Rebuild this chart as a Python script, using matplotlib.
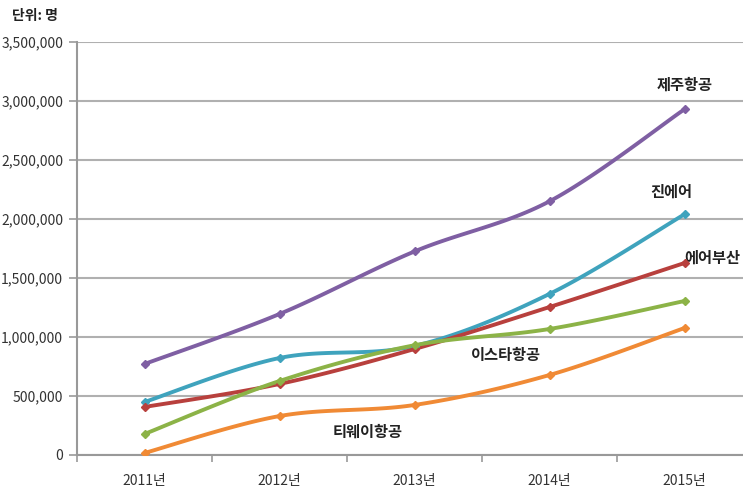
import numpy as np
import matplotlib.pyplot as plt

plt.rcParams['font.family'] = ['Noto Sans CJK KR', 'DejaVu Sans']

# data (passengers)
years = ['2011년', '2012년', '2013년', '2014년', '2015년']
jeju = [771000, 1195000, 1725000, 2150000, 2930000]
jinair = [449000, 822000, 924000, 1365000, 2040000]
airbusan = [407000, 602000, 898000, 1254000, 1627000]
eastar = [178000, 627000, 930000, 1068000, 1305000]
tway = [17000, 330000, 424000, 678000, 1076000]

series = [
    ('제주항공', jeju, '#7F5FA3'),
    ('진에어', jinair, '#3FA3BD'),
    ('에어부산', airbusan, '#B8403D'),
    ('이스타항공', eastar, '#8CB347'),
    ('티웨이항공', tway, '#F08A35'),
]


def smooth(x, y, n=30):
    # catmull-rom style curve through the points (like excel "smoothed line")
    x = np.asarray(x, float)
    y = np.asarray(y, float)
    px = np.concatenate([[x[0]], x, [x[-1]]])
    py = np.concatenate([[y[0]], y, [y[-1]]])
    xs, ys = [], []
    for i in range(1, len(px) - 2):
        p0 = np.array([px[i - 1], py[i - 1]])
        p1 = np.array([px[i], py[i]])
        p2 = np.array([px[i + 1], py[i + 1]])
        p3 = np.array([px[i + 2], py[i + 2]])
        c1 = p1 + (p2 - p0) / 6
        c2 = p2 - (p3 - p1) / 6
        t = np.linspace(0, 1, n)[:, None]
        b = (1 - t) ** 3 * p1 + 3 * (1 - t) ** 2 * t * c1 + 3 * (1 - t) * t ** 2 * c2 + t ** 3 * p2
        xs.extend(b[:, 0])
        ys.extend(b[:, 1])
    return np.array(xs), np.array(ys)


fig = plt.figure(figsize=(7.43, 4.91), dpi=100)
ax = fig.add_axes([77 / 743, 36 / 491, 675 / 743, 413 / 491])

xpos = np.arange(len(years))
# scale y so the smoothing acts in roughly screen proportions
yscale = 135 / (118 / 1e6)
for name, vals, col in series:
    sx, sy = smooth(xpos, np.array(vals) / yscale)
    ax.plot(sx, sy * yscale, color=col, lw=2.8, solid_capstyle='round', zorder=3)
    ax.plot(xpos, vals, linestyle='none', marker='D', ms=4, color=col, zorder=4)

ax.set_xlim(-0.5, 4.5)
ax.set_ylim(0, 3500000)
ax.set_yticks(np.arange(0, 3500001, 500000))
ax.set_yticklabels([f'{v:,}' for v in range(0, 3500001, 500000)])
ax.yaxis.grid(True, color='#B0B0B0', lw=1.5)
ax.set_axisbelow(True)

ax.set_xticks(xpos)
ax.set_xticklabels(years)
ax.set_xticks(np.arange(-0.5, 5, 1), minor=True)
ax.tick_params(axis='x', which='major', length=0, pad=14, labelsize=10, colors='#333333')
ax.tick_params(axis='x', which='minor', length=5, width=1.2, color='#999999', direction='out')
ax.tick_params(axis='y', length=6, width=1.2, color='#999999', pad=4, labelsize=10, labelcolor='#333333')

for s in ['top', 'right']:
    ax.spines[s].set_visible(False)
for s in ['left', 'bottom']:
    ax.spines[s].set_color('#999999')
    ax.spines[s].set_linewidth(1.5)

ax.text(4.0, 3140000, '제주항공', ha='center', va='center', fontsize=11, fontweight='bold', color='#222222')
ax.text(3.9, 2230000, '진에어', ha='center', va='center', fontsize=11, fontweight='bold', color='#222222')
ax.text(3.995, 1670000, '에어부산', ha='left', va='center', fontsize=11, fontweight='bold', color='#222222')
ax.text(2.68, 850000, '이스타항공', ha='center', va='center', fontsize=11, fontweight='bold', color='#222222')
ax.text(1.65, 200000, '티웨이항공', ha='center', va='center', fontsize=11, fontweight='bold', color='#222222')

fig.text(35 / 743, 1 - 16 / 491, '단위: 명', ha='center', va='center', fontsize=10, fontweight='bold', color='#222222')

fig.savefig('out.png', dpi=100)
